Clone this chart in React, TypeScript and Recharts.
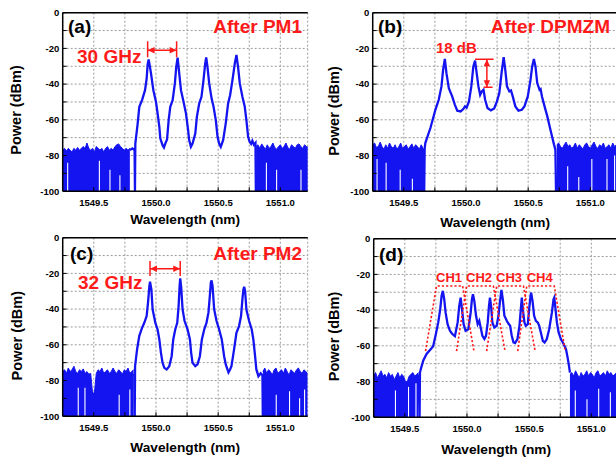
import React from "react";
import {
  ComposedChart, Line, Area, XAxis, YAxis, CartesianGrid, ReferenceLine,
} from "recharts";

type Pt = [number, number];

const WL_MIN = 1549.25;
const WL_MAX = 1551.22;
const xTicks = [1549.5, 1549.75, 1550.0, 1550.25, 1550.5, 1550.75, 1551.0];
const yTicks = [-100, -90, -80, -70, -60, -50, -40, -30, -20, -10, 0];

// noise floor of the OSA, top edge sampled every 0.015 nm
const NOISE_STEP = 0.015;

// ---- (a) after PM1
const aNoiseLeftStart = 1549.25;
const aNoiseLeft = [-77, -76, -77.5, -76, -77, -78, -76, -77, -75.5, -77, -76, -75, -76, -73, -76, -77, -76, -78, -75, -76, -77, -76, -78, -76, -75, -77, -76, -77, -75, -74, -73.5, -75, -76, -77, -76, -77, -76];
const aNoiseRightStart = 1550.805;
const aNoiseRight = [-75, -74, -76, -73.5, -75, -76.5, -74, -76, -75, -73, -75.5, -76.5, -75, -74, -76, -75, -73, -75.5, -76.5, -74, -75, -76, -74, -73.5, -75, -76, -74, -75, -75.5];
const aGaps: Pt[] = [[1549.29, -84], [1549.545, -83], [1549.63, -88], [1549.71, -91], [1550.888, -84], [1550.97, -88], [1551.166, -88]];
const aTrace: Pt[] = [
  [1549.79, -77], [1549.81, -76], [1549.828, -77], [1549.831, -100], [1549.834, -73.3],
  [1549.853, -62], [1549.866, -52.7], [1549.888, -49], [1549.912, -43.4], [1549.925, -37], [1549.933, -29],
  [1549.941, -26.2], [1549.949, -29.3], [1549.96, -34], [1549.979, -43.4], [1550.0, -49.9], [1550.013, -56.4],
  [1550.027, -63.9], [1550.035, -70.5], [1550.053, -74.2], [1550.064, -75.5], [1550.075, -73.3], [1550.089, -71],
  [1550.102, -60.2], [1550.115, -52.7], [1550.134, -49], [1550.152, -39.6], [1550.163, -30.3], [1550.174, -25.2],
  [1550.187, -34], [1550.201, -43.4], [1550.222, -50], [1550.241, -56.4], [1550.257, -64.9], [1550.267, -71.4],
  [1550.281, -75.1], [1550.294, -73.3], [1550.316, -67.7], [1550.329, -58.3], [1550.348, -50.8], [1550.366, -47.1],
  [1550.382, -37.8], [1550.396, -28.4], [1550.404, -25], [1550.414, -30.3], [1550.428, -39.6], [1550.447, -48],
  [1550.463, -52.7], [1550.481, -60.2], [1550.495, -69.5], [1550.508, -73.3], [1550.521, -75.1], [1550.54, -71.4],
  [1550.561, -62], [1550.58, -50.8], [1550.596, -46.2], [1550.615, -37.8], [1550.634, -28.4], [1550.647, -23.7],
  [1550.66, -30.3], [1550.674, -39.6], [1550.695, -47.1], [1550.714, -52.7], [1550.727, -60.2], [1550.741, -69.5],
  [1550.753, -72.3], [1550.765, -73.5], [1550.775, -71.8], [1550.788, -74], [1550.8, -73], [1550.803, -100],
];

// ---- (b) after DPMZM
const bNoiseLeftStart = 1549.25;
const bNoiseLeft = [-74, -73, -75.5, -75, -72.5, -75, -76.5, -74, -76, -73, -75, -76, -74, -76.5, -75, -73, -76, -75, -74, -76.5, -75, -73.5, -76, -74, -75, -76.5, -74, -76];
const bNoiseRightStart = 1550.73;
const bNoiseRight = [-74, -73, -75, -76, -74, -72.5, -75, -74, -76, -75, -73, -76, -74, -75, -76.5, -74, -73, -75, -76, -74, -72.5, -75, -76, -74, -75, -73, -76, -75, -74, -76, -73, -75, -74, -76];
const bGaps: Pt[] = [[1549.285, -82], [1549.358, -84], [1549.471, -88], [1549.569, -93], [1550.818, -86], [1550.907, -92], [1551.012, -82], [1551.134, -82], [1551.195, -80]];
const bTrace: Pt[] = [
  [1549.655, -76], [1549.664, -100], [1549.668, -76], [1549.673, -73], [1549.714, -64.6], [1549.754, -54.4],
  [1549.781, -48.8], [1549.803, -41.3], [1549.816, -32], [1549.83, -25.9], [1549.843, -33.9], [1549.862, -42.3],
  [1549.889, -46.9], [1549.911, -51.6], [1549.93, -54.9], [1549.957, -55.3], [1549.978, -54], [1549.992, -52.5],
  [1550.005, -53.2], [1550.024, -49.7], [1550.043, -41.3], [1550.059, -30.2], [1550.073, -26.8], [1550.086, -33.9],
  [1550.1, -41.3], [1550.114, -46], [1550.127, -44.1], [1550.141, -43.2], [1550.154, -48.8], [1550.173, -53.4],
  [1550.2, -54.7], [1550.227, -53.6], [1550.249, -49.7], [1550.268, -45], [1550.286, -33.9], [1550.303, -24.9],
  [1550.316, -32], [1550.33, -41.3], [1550.349, -44.1], [1550.362, -43.6], [1550.376, -46.9], [1550.397, -52.5],
  [1550.422, -54.9], [1550.449, -54.4], [1550.47, -52.5], [1550.497, -46.9], [1550.519, -37.6], [1550.532, -30.2],
  [1550.546, -25.9], [1550.559, -30.2], [1550.573, -39.4], [1550.592, -43.2], [1550.6, -42.8], [1550.611, -46.9],
  [1550.632, -52.5], [1550.654, -58.1], [1550.673, -63.7], [1550.692, -69.3], [1550.708, -73.9], [1550.719, -76.7],
  [1550.724, -100],
];

// ---- (c) after PM2
const cNoiseLeftStart = 1549.25;
const cNoiseLeft = [-75, -74, -76, -73, -75, -74, -72, -75, -76, -74, -75, -73.5, -76, -75, -76.5, -76, -87, -87, -76, -74, -75, -73, -76, -75, -74, -76, -75, -73, -75, -76, -74, -75, -76.5, -74, -75, -73, -76, -75, -74];
const cNoiseRightStart = 1550.86;
const cNoiseRight = [-75, -73, -76, -74, -75, -77, -74, -73, -76, -75, -74, -76, -73, -75, -77, -74, -75, -76, -74, -73, -75, -76, -74, -75, -76];
const cGaps: Pt[] = [[1549.375, -84], [1549.429, -84], [1549.704, -88], [1549.79, -85], [1550.967, -88], [1551.074, -86], [1551.155, -90], [1551.195, -85]];
const cTrace: Pt[] = [
  [1549.82, -76], [1549.826, -77], [1549.829, -100], [1549.832, -72], [1549.848, -62.6], [1549.866, -55],
  [1549.888, -50.5], [1549.906, -47.7], [1549.925, -43.9], [1549.936, -36.4], [1549.947, -27.1], [1549.952, -24.7],
  [1549.963, -29], [1549.973, -40.2], [1549.995, -47.7], [1550.013, -51.4], [1550.027, -57], [1550.04, -64.5],
  [1550.053, -70.1], [1550.067, -72.9], [1550.086, -73.8], [1550.107, -72], [1550.126, -66.4], [1550.139, -57],
  [1550.155, -51.4], [1550.171, -47.7], [1550.182, -38.3], [1550.19, -27.1], [1550.195, -22.8], [1550.203, -28],
  [1550.214, -40.2], [1550.23, -46.7], [1550.254, -51.4], [1550.273, -57], [1550.283, -64.5], [1550.294, -70.1],
  [1550.316, -72], [1550.334, -71], [1550.353, -66.4], [1550.369, -57], [1550.388, -51.4], [1550.406, -47.7],
  [1550.422, -42], [1550.433, -32.7], [1550.441, -25.2], [1550.447, -23.9], [1550.455, -27.1], [1550.468, -40.2],
  [1550.487, -46.7], [1550.508, -51.4], [1550.529, -57], [1550.548, -66.4], [1550.561, -71], [1550.583, -75.5],
  [1550.595, -74], [1550.607, -72], [1550.628, -62.6], [1550.647, -53.3], [1550.668, -49.5], [1550.684, -43.9],
  [1550.695, -34.6], [1550.703, -29], [1550.709, -27.5], [1550.717, -29.9], [1550.727, -40.2], [1550.749, -46.7],
  [1550.77, -51.4], [1550.783, -57], [1550.797, -66.4], [1550.807, -73.8], [1550.824, -77.6], [1550.842, -76],
  [1550.856, -77], [1550.859, -100],
];

// ---- (d) four channels
const dNoiseLeftStart = 1549.25;
const dNoiseLeft = [-77, -75, -78, -76, -74, -77, -76, -78, -75, -77, -76, -79, -77, -75, -78, -76, -77, -80, -80, -77, -76, -75, -77, -76, -75];
const dNoiseRightStart = 1550.828;
const dNoiseRight = [-76, -75, -77, -74, -76, -78, -75, -77, -76, -74, -77, -75, -76, -78, -75, -74, -77, -76, -75, -77, -74, -76, -75, -77, -76, -75, -74, -76];
const dGaps: Pt[] = [[1549.425, -85], [1549.53, -83], [1549.59, -81], [1550.871, -85], [1550.965, -90], [1551.059, -84], [1551.153, -86]];
const dTrace: Pt[] = [
  [1549.61, -76], [1549.619, -100], [1549.622, -75], [1549.629, -73], [1549.648, -68.3], [1549.675, -64.6],
  [1549.71, -61.8], [1549.728, -60.3], [1549.747, -54.4], [1549.769, -46.9], [1549.785, -39.5], [1549.796, -32],
  [1549.806, -29.2], [1549.817, -33.9], [1549.828, -41.3], [1549.844, -47.9], [1549.863, -51.6], [1549.882, -53.4],
  [1549.903, -54.6], [1549.925, -46.9], [1549.938, -37.6], [1549.949, -33], [1549.96, -39.5], [1549.973, -47.9],
  [1549.989, -51.6], [1550.011, -50.7], [1550.03, -41.3], [1550.04, -33.9], [1550.048, -31.1], [1550.059, -34.8],
  [1550.073, -43.2], [1550.086, -47.9], [1550.099, -46], [1550.11, -49.7], [1550.124, -54.4], [1550.14, -56.2],
  [1550.153, -54.4], [1550.167, -46.9], [1550.177, -37.6], [1550.185, -33], [1550.194, -37.6], [1550.204, -46.9],
  [1550.22, -49.7], [1550.239, -48.8], [1550.253, -43.2], [1550.266, -34.8], [1550.277, -28.7], [1550.288, -33.9],
  [1550.301, -43.2], [1550.32, -46], [1550.333, -47.5], [1550.347, -48.8], [1550.36, -54.4], [1550.374, -58.1],
  [1550.387, -58.5], [1550.406, -56.2], [1550.422, -48.8], [1550.433, -39.5], [1550.441, -33], [1550.449, -39.5],
  [1550.462, -46.9], [1550.473, -48.8], [1550.489, -47.9], [1550.5, -39.5], [1550.511, -32], [1550.516, -30.2],
  [1550.527, -34.8], [1550.54, -43.2], [1550.554, -46], [1550.57, -47], [1550.581, -48.8], [1550.594, -52.5],
  [1550.61, -57.2], [1550.624, -58.1], [1550.642, -56.2], [1550.661, -50.7], [1550.683, -41.3], [1550.696, -33.9],
  [1550.702, -33], [1550.712, -39.5], [1550.723, -46.9], [1550.737, -52.5], [1550.755, -56.2], [1550.777, -59],
  [1550.796, -61.8], [1550.809, -66.5], [1550.82, -71.1], [1550.828, -75],
];
// channel filter outlines: bottom-left, top-left, top-right, bottom-right wavelengths
const chNames = ["CH1", "CH2", "CH3", "CH4"];
const chEdges = [
  [1549.667, 1549.755, 1549.965, 1550.056],
  [1549.916, 1549.997, 1550.212, 1550.306],
  [1550.158, 1550.239, 1550.454, 1550.548],
  [1550.408, 1550.481, 1550.702, 1550.79],
];
const chTop = -26.5;
const chBottom = -63;

// annotations (data coords)
const aSpacing = { from: 1549.933, to: 1550.166, y: -21, barTop: -16, barBottom: -25 };
const cSpacing = { from: 1549.952, to: 1550.195, y: -17.4, barTop: -13, barBottom: -21.5 };
const bDepth = { x: 1550.168, top: -26.1, bottom: -41.7, topFrom: 1550.073, topTo: 1550.222, botFrom: 1550.141, botTo: 1550.214 };

const BLUE = "#1414f0";
const RED = "#ff1a1a";
const FONT = '"Liberation Sans", Arial, Helvetica, sans-serif';

const toXY = (pts: Pt[]) => pts.map(([x, y]) => ({ x, y }));
const noiseXY = (start: number, vals: number[]) =>
  vals.map((y, i) => ({ x: +(start + i * NOISE_STEP).toFixed(4), y }));

const fmtX = (v: number) => (Math.abs(v * 2 - Math.round(v * 2)) < 1e-6 ? v.toFixed(1) : "");
// the "0" at the top of each axis is drawn with the panel labels
const fmtY = (v: number) => (v !== 0 && Math.round(v) % 20 === 0 ? String(Math.round(v)) : "");
const axisLine = { stroke: "#000", strokeWidth: 1.5 };
const tickFont = { fontSize: 9.5, fontWeight: 700, fontFamily: FONT, fill: "#000" };

const XTick = (p: any) => (
  <text x={p.x} y={p.y} dy="0.71em" textAnchor="middle" {...tickFont}>{fmtX(p.payload.value)}</text>
);
const YTick = (p: any) => (
  <text x={p.x} y={p.y} dy="0.355em" textAnchor="end" {...tickFont}>{fmtY(p.payload.value)}</text>
);

const seg = (pts: { x: number; y: number }[], key: string, dash?: string) => (
  <Line key={key} data={pts} dataKey="y" type="linear" stroke={RED} strokeWidth={dash ? 1.6 : 1.5}
    strokeDasharray={dash} dot={false} activeDot={false} isAnimationActive={false} />
);

const arrowHeads = (vertical: boolean) => (p: any) => {
  const { cx, cy, index } = p;
  if (cx == null || cy == null) return <g key={index} />;
  const L = 7, W = 3.2;
  let d: string;
  if (vertical) {
    d = index === 0
      ? `M${cx},${cy} L${cx - W},${cy + L} L${cx + W},${cy + L} Z`
      : `M${cx},${cy} L${cx - W},${cy - L} L${cx + W},${cy - L} Z`;
  } else {
    d = index === 0
      ? `M${cx},${cy} L${cx + L},${cy - W} L${cx + L},${cy + W} Z`
      : `M${cx},${cy} L${cx - L},${cy - W} L${cx - L},${cy + W} Z`;
  }
  return <path key={index} d={d} fill={RED} stroke="none" />;
};

const arrow = (pts: { x: number; y: number }[], key: string, vertical: boolean) => (
  <Line key={key} data={pts} dataKey="y" type="linear" stroke={RED} strokeWidth={1.5}
    dot={arrowHeads(vertical)} activeDot={false} isAnimationActive={false} />
);

function spacingMarks(s: typeof aSpacing, k: string) {
  return [
    seg([{ x: s.from, y: s.barTop }, { x: s.from, y: s.barBottom }], k + "l"),
    seg([{ x: s.to, y: s.barTop }, { x: s.to, y: s.barBottom }], k + "r"),
    arrow([{ x: s.from, y: s.y }, { x: s.to, y: s.y }], k + "a", false),
  ];
}

function Panel({ left, top, trace, noise, gaps, extras }: {
  left: number; top: number; trace: Pt[]; noise: { x: number; y: number }[][];
  gaps: Pt[]; extras?: React.ReactNode[];
}) {
  return (
    <div style={{ position: "absolute", left, top }}>
      <ComposedChart width={310} height={229} margin={{ top: 12.7, right: 2.3, bottom: 7.8, left: 22.7 }}>
        <CartesianGrid stroke="#9a9a9a" strokeDasharray="2 2" />
        <XAxis type="number" dataKey="x" domain={[WL_MIN, WL_MAX]} ticks={xTicks} interval={0}
          allowDataOverflow height={30} tickSize={-4} tickMargin={12.3} axisLine={axisLine}
          tickLine={{ stroke: "#000" }} tick={<XTick />} />
        <YAxis type="number" domain={[-100, 0]} ticks={yTicks} interval={0} allowDataOverflow width={40}
          tickSize={-4} tickMargin={7.4} axisLine={axisLine} tickLine={{ stroke: "#000" }}
          tick={<YTick />} />
        <YAxis yAxisId="r" orientation="right" type="number" domain={[-100, 0]} ticks={yTicks}
          interval={0} width={0} tickSize={-4} tick={false} axisLine={axisLine} tickLine={{ stroke: "#000" }} />
        {noise.map((d, i) => (
          <Area key={"n" + i} data={d} dataKey="y" type="linear" baseValue="dataMin" stroke={BLUE}
            strokeWidth={1} fill={BLUE} fillOpacity={1} dot={false} activeDot={false} isAnimationActive={false} />
        ))}
        {gaps.map(([x, y], i) => (
          <ReferenceLine key={"g" + i} segment={[{ x, y: -100 }, { x, y }]} stroke="#fff" strokeWidth={1.1} />
        ))}
        <Line data={toXY(trace)} dataKey="y" type="linear" stroke={BLUE} strokeWidth={2.3}
          dot={false} activeDot={false} isAnimationActive={false} />
        {extras}
        {/* top frame of the plot box */}
        <ReferenceLine y={0} stroke="#000" strokeWidth={1.5} />
      </ComposedChart>
    </div>
  );
}

const bold = { fontFamily: FONT, fontWeight: 700 } as const;

function Labels() {
  const axisT = { ...bold, fontSize: 13.7, fill: "#000" };
  const axisY = { ...bold, fontSize: 14.5, fill: "#000" };
  const big = { ...bold, fontSize: 19 };
  // "0" label at the top end of each y axis
  const zeroAt: Pt[] = [[59.3, 16.1], [369.3, 16.1], [59.3, 240.7], [370.3, 241.7]];
  return (
    <svg width={616} height={459} style={{ position: "absolute", left: 0, top: 0, pointerEvents: "none" }}>
      {zeroAt.map(([x, y], i) => (
        <text key={"z" + i} x={x} y={y} textAnchor="end" {...tickFont}>0</text>
      ))}
      {/* (a) */}
      <text x={68} y={33} {...big} fill="#000">(a)</text>
      <text x={302} y={33} {...big} fill={RED} textAnchor="end">After PM1</text>
      <text x={77} y={63} {...big} fill={RED}>30 GHz</text>
      <text x={185.2} y={224} {...axisT} textAnchor="middle">Wavelength (nm)</text>
      <text transform="translate(21,110) rotate(-90)" {...axisY} textAnchor="middle">Power (dBm)</text>
      {/* (b) */}
      <text x={378} y={33} {...big} fill="#000">(b)</text>
      <text x={610} y={33} {...big} fill={RED} textAnchor="end">After DPMZM</text>
      <text x={436} y={53.3} {...bold} fontSize={15} fill={RED}>18 dB</text>
      <text x={495.2} y={226.7} {...axisT} textAnchor="middle">Wavelength (nm)</text>
      <text transform="translate(339,111) rotate(-90)" {...axisY} textAnchor="middle">Power (dBm)</text>
      {/* (c) */}
      <text x={70} y={260} {...big} fill="#000">(c)</text>
      <text x={302} y={260} {...big} fill={RED} textAnchor="end">After PM2</text>
      <text x={78} y={289} {...big} fill={RED}>32 GHz</text>
      <text x={185.2} y={452} {...axisT} textAnchor="middle">Wavelength (nm)</text>
      <text transform="translate(21.5,335.7) rotate(-90)" {...axisY} textAnchor="middle">Power (dBm)</text>
      {/* (d) */}
      <text x={379} y={261} {...big} fill="#000">(d)</text>
      {chNames.map((n, i) => (
        <text key={n} x={[436, 466, 496, 526.7][i]} y={282.3} {...bold} fontSize={13} fill={RED}>{n}</text>
      ))}
      <text x={496.2} y={454} {...axisT} textAnchor="middle">Wavelength (nm)</text>
      <text transform="translate(339,336.5) rotate(-90)" {...axisY} textAnchor="middle">Power (dBm)</text>
    </svg>
  );
}

export default function App() {
  const bExtras = [
    seg([{ x: bDepth.topFrom, y: bDepth.top }, { x: bDepth.topTo, y: bDepth.top }], "bt"),
    seg([{ x: bDepth.botFrom, y: bDepth.bottom }, { x: bDepth.botTo, y: bDepth.bottom }], "bb"),
    arrow([{ x: bDepth.x, y: bDepth.top }, { x: bDepth.x, y: bDepth.bottom }], "ba", true),
  ];
  const dExtras = chEdges.map((e, i) =>
    seg([{ x: e[0], y: chBottom }, { x: e[1], y: chTop }, { x: e[2], y: chTop }, { x: e[3], y: chBottom }], "ch" + i, "2.2 2")
  );
  return (
    <div style={{ position: "relative", width: 616, height: 459, overflow: "hidden", background: "#fff" }}>
      <style>{"body{margin:0}"}</style>
      <Panel left={0} top={0} trace={aTrace}
        noise={[noiseXY(aNoiseLeftStart, aNoiseLeft), noiseXY(aNoiseRightStart, aNoiseRight)]}
        gaps={aGaps} extras={spacingMarks(aSpacing, "as")} />
      <Panel left={310} top={0} trace={bTrace}
        noise={[noiseXY(bNoiseLeftStart, bNoiseLeft), noiseXY(bNoiseRightStart, bNoiseRight)]}
        gaps={bGaps} extras={bExtras} />
      <Panel left={0} top={224.6} trace={cTrace}
        noise={[noiseXY(cNoiseLeftStart, cNoiseLeft), noiseXY(cNoiseRightStart, cNoiseRight)]}
        gaps={cGaps} extras={spacingMarks(cSpacing, "cs")} />
      <Panel left={311} top={225.6} trace={dTrace}
        noise={[noiseXY(dNoiseLeftStart, dNoiseLeft), noiseXY(dNoiseRightStart, dNoiseRight)]}
        gaps={dGaps} extras={dExtras} />
      <Labels />
    </div>
  );
}
